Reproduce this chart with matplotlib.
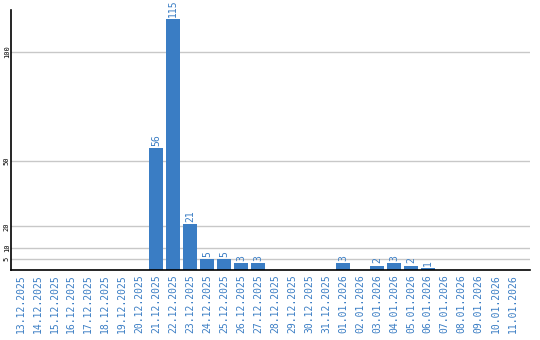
import pandas as pd
import matplotlib
matplotlib.use("Agg")
import matplotlib.pyplot as plt

dates = pd.date_range("2025-12-13", "2026-01-11").strftime("%d.%m.%Y").tolist()
counts = [0, 0, 0, 0, 0, 0, 0, 0, 56, 115, 21, 5, 5, 3, 3, 0, 0, 0, 0,
          3, 0, 2, 3, 2, 1, 0, 0, 0, 0, 0]
yticks = [5, 10, 20, 50, 100]

blue = "#3a7dc4"

fig = plt.figure(figsize=(5.4, 3.4), dpi=100)
ax = fig.add_axes([0.0205, 0.206, 0.9605, 0.765])

x = list(range(len(dates)))
ax.bar(x, counts, width=0.82, color=blue, zorder=3)

for xi, v in zip(x, counts):
    if v > 0:
        ax.text(xi, v + 1, str(v), rotation=90, ha="center", va="bottom",
                color=blue, fontsize=7, family="DejaVu Sans Mono")

ax.set_xlim(-0.55, 30.0)
ax.set_ylim(0, 119.3)
ax.set_xticks(x)
ax.set_xticklabels(dates, rotation=90, color=blue, fontsize=7,
                   family="DejaVu Sans Mono")
ax.set_yticks(yticks)
ax.set_yticklabels([str(t) for t in yticks], rotation=90, va="center",
                   fontsize=5, family="DejaVu Sans Mono")
ax.tick_params(axis="x", length=0, pad=3)
ax.tick_params(axis="y", length=0, pad=1)
ax.grid(axis="y", color="#c8c8c8", linewidth=1, zorder=0)

for side in ["top", "right"]:
    ax.spines[side].set_visible(False)
ax.spines["left"].set_linewidth(1.2)
ax.spines["bottom"].set_linewidth(1.2)
ax.spines["left"].set_zorder(4)
ax.spines["bottom"].set_zorder(4)

plt.savefig("out.png", dpi=100)
plt.close()
